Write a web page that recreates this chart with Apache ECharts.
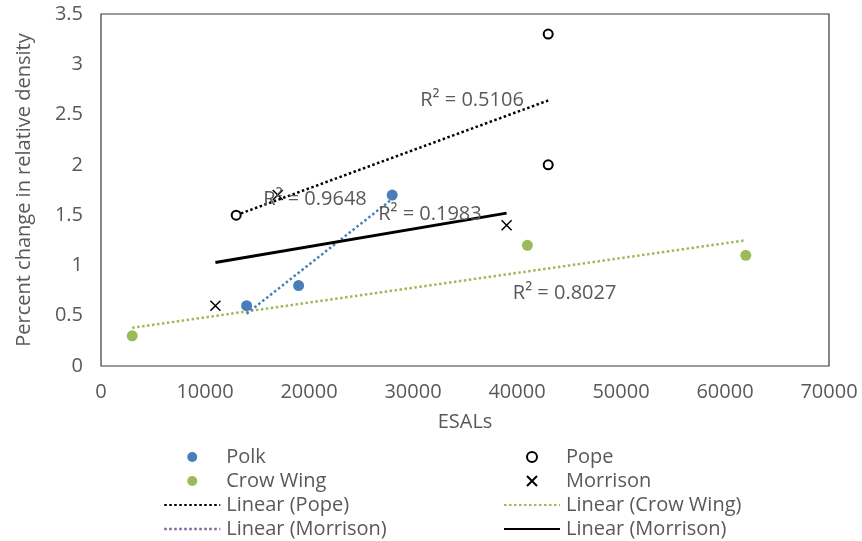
<!DOCTYPE html>
<html><head><meta charset="utf-8">
<script src="https://cdn.jsdelivr.net/npm/echarts@6/dist/echarts.min.js"></script>
<style>html,body{margin:0;padding:0;background:#fff}#c{width:862px;height:541px}</style>
</head><body><div id="c"></div>
<script>
// Data
const polk = [[14000, 0.6], [19000, 0.8], [28000, 1.7]];
const pope = [[13000, 1.5], [43000, 3.3], [43000, 2.0]];
const crowWing = [[3000, 0.3], [41000, 1.2], [62000, 1.1]];
const morrison = [[11000, 0.6], [17000, 1.7], [39000, 1.4]];
// Trendline end points
const popeTrend = [[13000, 1.50], [43000, 2.64]];
const crowWingTrend = [[3000, 0.38], [62000, 1.25]];
const polkTrend = [[14000, 0.52], [28000, 1.66]];
const morrisonTrend = [[11000, 1.03], [39000, 1.52]];
// R² annotations: [x, y, text]
const r2Labels = [
  [30700, 2.645, 'R² = 0.5106'],
  [15600, 1.66, 'R² = 0.9648'],
  [26650, 1.51, 'R² = 0.1983'],
  [39600, 0.725, 'R² = 0.8027']
];
const xTicks = [0, 10000, 20000, 30000, 40000, 50000, 60000, 70000];
const yTicks = [0, 0.5, 1, 1.5, 2, 2.5, 3, 3.5];

const FONT = 'Open Sans';
const GRAY = '#595959';
const BLUE = '#4A7EBB', GREEN = '#9BBB59', PURPLE = '#8064A2';
const xPath = 'path://M0,0L10,10M10,0L0,10';
const FS = 20;

const chart = echarts.init(document.getElementById('c'));
const dotted = [2.5, 2.5];
const hideSym = {opacity: 0};
const r2Label = {show: true, position: 'right', distance: 0, formatter: p => p.value, color: GRAY, fontSize: FS, fontFamily: FONT};
const legendBase = {orient: 'vertical', top: 445, itemGap: 0, itemWidth: 56, itemHeight: 10, padding: 0,
  height: 120, textStyle: {color: GRAY, fontSize: FS, fontFamily: FONT, lineHeight: 24, padding: [0, 0, 0, 1]}};
chart.setOption({
  animation: false,
  textStyle: {fontFamily: FONT},
  grid: {left: 101, right: 33, top: 14, bottom: 175, show: true, borderColor: '#3a3a3a', borderWidth: 1.2},
  xAxis: {
    type: 'value', min: xTicks[0], max: xTicks[xTicks.length - 1], interval: xTicks[1] - xTicks[0],
    name: 'ESALs', nameLocation: 'middle', nameGap: 46,
    nameTextStyle: {color: GRAY, fontSize: FS, fontFamily: FONT},
    axisLine: {show: false}, axisTick: {show: false}, splitLine: {show: false},
    axisLabel: {color: GRAY, fontSize: FS, fontFamily: FONT, margin: 16, formatter: v => String(v)}
  },
  yAxis: {
    type: 'value', min: yTicks[0], max: yTicks[yTicks.length - 1], interval: yTicks[1] - yTicks[0],
    name: 'Percent change in relative density', nameLocation: 'middle', nameGap: 67,
    nameTextStyle: {color: GRAY, fontSize: FS, fontFamily: FONT},
    axisLine: {show: false}, axisTick: {show: false}, splitLine: {show: false},
    axisLabel: {color: GRAY, fontSize: FS, fontFamily: FONT, margin: 18, formatter: v => String(v)}
  },
  legend: [
    Object.assign({}, legendBase, {
      left: 163,
      data: [
        {name: 'Polk'},
        {name: 'Crow Wing'},
        {name: 'Linear (Pope)', itemStyle: hideSym},
        {name: 'Linear (Morrison)\u200B', itemStyle: hideSym, lineStyle: {color: PURPLE, type: dotted, width: 2.5}}
      ]
    }),
    Object.assign({}, legendBase, {
      left: 503,
      data: [
        {name: 'Pope'},
        {name: 'Morrison'},
        {name: 'Linear (Crow Wing)', itemStyle: hideSym},
        {name: 'Linear (Morrison)', itemStyle: hideSym}
      ]
    })
  ],
  series: [
    {name: 'Linear (Pope)', type: 'line', data: popeTrend, symbol: 'none', z: 3,
     lineStyle: {color: '#000', width: 2.5, type: dotted}, itemStyle: {color: '#000'},
     markPoint: {symbol: 'circle', symbolSize: 0, silent: true,
       data: [{coord: [r2Labels[0][0], r2Labels[0][1]], value: r2Labels[0][2]}], label: r2Label}},
    {name: 'Linear (Crow Wing)', type: 'line', data: crowWingTrend, symbol: 'none', z: 3,
     lineStyle: {color: GREEN, width: 2.5, type: dotted}, itemStyle: {color: GREEN},
     markPoint: {symbol: 'circle', symbolSize: 0, silent: true,
       data: [{coord: [r2Labels[3][0], r2Labels[3][1]], value: r2Labels[3][2]}], label: r2Label}},
    {name: 'Linear (Morrison)\u200B', type: 'line', data: polkTrend, symbol: 'none', z: 3,
     lineStyle: {color: BLUE, width: 2.5, type: dotted}, itemStyle: {color: BLUE},
     markPoint: {symbol: 'circle', symbolSize: 0, silent: true,
       data: [{coord: [r2Labels[1][0], r2Labels[1][1]], value: r2Labels[1][2]}], label: r2Label}},
    {name: 'Linear (Morrison)', type: 'line', data: morrisonTrend, symbol: 'none', z: 3,
     lineStyle: {color: '#000', width: 3, type: 'solid'}, itemStyle: {color: '#000'},
     markPoint: {symbol: 'circle', symbolSize: 0, silent: true,
       data: [{coord: [r2Labels[2][0], r2Labels[2][1]], value: r2Labels[2][2]}], label: r2Label}},
    {name: 'Polk', type: 'scatter', data: polk, symbol: 'circle', symbolSize: 11, z: 4,
     itemStyle: {color: BLUE, opacity: 1}},
    {name: 'Crow Wing', type: 'scatter', data: crowWing, symbol: 'circle', symbolSize: 11, z: 4,
     itemStyle: {color: GREEN, opacity: 1}},
    {name: 'Pope', type: 'scatter', data: pope, symbol: 'emptyCircle', symbolSize: 9, z: 4,
     itemStyle: {color: '#000', borderColor: '#000', borderWidth: 1.6, opacity: 1}},
    {name: 'Morrison', type: 'scatter', data: morrison, symbol: xPath, symbolSize: 10, z: 4,
     itemStyle: {color: 'none', borderColor: '#000', borderWidth: 1.5, opacity: 1}}
  ]
});
</script></body></html>
